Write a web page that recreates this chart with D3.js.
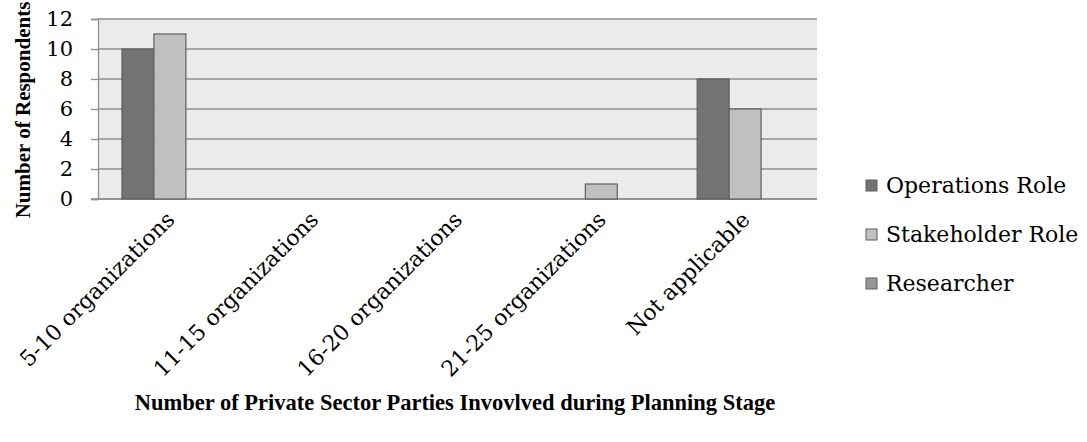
<!DOCTYPE html>
<html>
<head>
<meta charset="utf-8">
<script src="https://cdn.jsdelivr.net/npm/d3@7"></script>
<style>
  body { margin: 0; background: #fff; }
  text { font-family: "DejaVu Serif", serif; fill: #000; }
  .title { font-family: "Liberation Serif", serif; font-weight: bold; }
</style>
</head>
<body>
<div id="chart"></div>
<script>
const categories = ["5-10 organizations", "11-15 organizations", "16-20 organizations", "21-25 organizations", "Not applicable"];
const seriesNames = ["Operations Role", "Stakeholder Role", "Researcher"];
const operations = [10, 0, 0, 0, 8];
const stakeholder = [11, 0, 0, 1, 6];
const researcher = [0, 0, 0, 0, 0];
const yTicks = [0, 2, 4, 6, 8, 10, 12];
const colors = ["#737373", "#c0c0c0", "#969696"];

const W = 1087, H = 442;
const plot = { left: 98, right: 817, top: 19, bottom: 199 };

const svg = d3.select("#chart").append("svg")
  .attr("width", W)
  .attr("height", H);

const values = [operations, stakeholder, researcher];
const rows = categories.map((c, i) => ({
  cat: c,
  vals: seriesNames.map((s, j) => ({ s, j, v: values[j][i] }))
}));

const x = d3.scaleBand().domain(categories).range([plot.left, plot.right]);
const xSub = d3.scaleBand().domain(seriesNames).range([0, x.bandwidth()]).paddingOuter(0.75);
const y = d3.scaleLinear().domain([0, 12]).range([plot.bottom, plot.top]);

// plot background
svg.append("rect")
  .attr("x", plot.left).attr("y", plot.top)
  .attr("width", plot.right - plot.left).attr("height", plot.bottom - plot.top)
  .attr("fill", "#ebebeb");

// grid lines
svg.append("g")
  .selectAll("line")
  .data(yTicks)
  .join("line")
  .attr("x1", plot.left).attr("x2", plot.right)
  .attr("y1", d => y(d)).attr("y2", d => y(d))
  .attr("stroke", "#8e8e8e")
  .attr("stroke-width", 1.3);

// y axis
const yAxis = svg.append("g")
  .attr("transform", `translate(${plot.left},0)`)
  .call(d3.axisLeft(y).tickValues(yTicks).tickSize(7).tickPadding(18));
yAxis.select(".domain").attr("stroke", "#8e8e8e").attr("stroke-width", 1.3);
yAxis.selectAll(".tick line").attr("stroke", "#8e8e8e").attr("stroke-width", 1.3);
yAxis.selectAll(".tick text")
  .attr("font-size", "21px")
  .attr("fill", "#000");

// bottom axis line
svg.append("line")
  .attr("x1", plot.left - 7).attr("x2", plot.right)
  .attr("y1", plot.bottom).attr("y2", plot.bottom)
  .attr("stroke", "#8e8e8e")
  .attr("stroke-width", 1.3);

// bars
svg.append("g")
  .selectAll("g")
  .data(rows)
  .join("g")
  .attr("transform", d => `translate(${x(d.cat)},0)`)
  .selectAll("rect")
  .data(d => d.vals.filter(e => e.v > 0))
  .join("rect")
  .attr("x", d => xSub(d.s))
  .attr("width", xSub.bandwidth())
  .attr("y", d => y(d.v))
  .attr("height", d => y(0) - y(d.v))
  .attr("fill", d => colors[d.j])
  .attr("stroke", "#5f5f5f")
  .attr("stroke-width", 1.2);

// x labels
svg.append("g")
  .selectAll("text")
  .data(categories)
  .join("text")
  .attr("transform", d => `translate(${x(d) + x.bandwidth() / 2 + 6},${plot.bottom + 22}) rotate(-45)`)
  .attr("text-anchor", "end")
  .attr("font-size", "22px")
  .text(d => d);

// axis titles
svg.append("text")
  .attr("class", "title")
  .attr("x", 455)
  .attr("y", 410)
  .attr("text-anchor", "middle")
  .attr("font-size", "22.5px")
  .text("Number of Private Sector Parties Invovlved during Planning Stage");

svg.append("text")
  .attr("class", "title")
  .attr("transform", `translate(30,${(plot.top + plot.bottom) / 2 + 1}) rotate(-90)`)
  .attr("text-anchor", "middle")
  .attr("font-size", "21px")
  .text("Number of Respondents");

// legend
const legend = svg.append("g")
  .selectAll("g")
  .data(seriesNames)
  .join("g")
  .attr("transform", (d, i) => `translate(866,${185 + i * 49})`);

legend.append("rect")
  .attr("x", 0).attr("y", -5)
  .attr("width", 11).attr("height", 11)
  .attr("fill", (d, i) => colors[i])
  .attr("stroke", "#5f5f5f")
  .attr("stroke-width", 1);

legend.append("text")
  .attr("x", 20)
  .attr("y", 8)
  .attr("font-size", "22px")
  .text(d => d);
</script>
</body>
</html>
